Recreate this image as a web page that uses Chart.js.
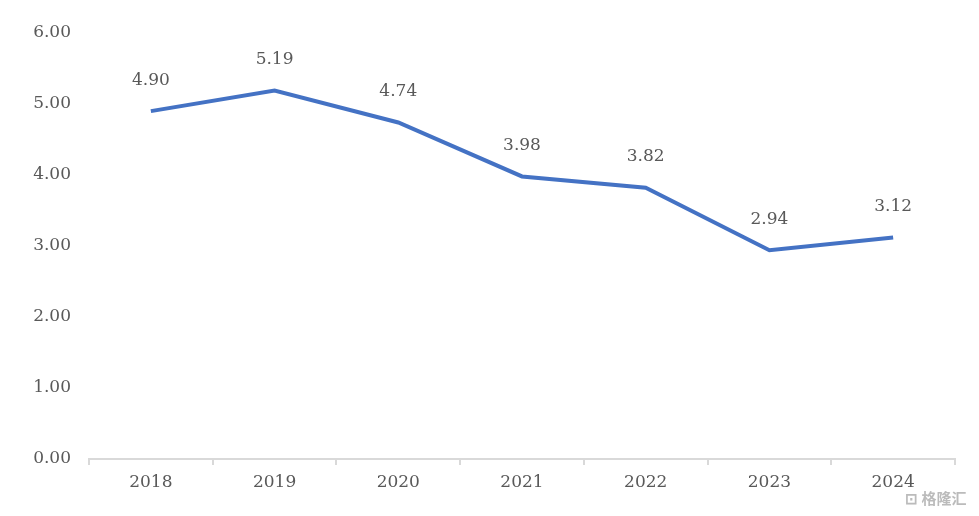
<!DOCTYPE html>
<html>
<head>
<meta charset="utf-8">
<script src="https://cdn.jsdelivr.net/npm/chart.js@4.4.0/dist/chart.umd.min.js"></script>
<style>
  html, body { margin: 0; padding: 0; background: #fff; }
  #wrap { width: 979px; height: 516px; position: relative; }
</style>
</head>
<body>
<div id="wrap"><canvas id="lineChart"></canvas></div>
<script>
// === DATA ===
const years = ['2018', '2019', '2020', '2021', '2022', '2023', '2024'];
const values = [4.90, 5.19, 4.74, 3.98, 3.82, 2.94, 3.12];
const yTicks = [0, 1, 2, 3, 4, 5, 6];

const textColor = '#595959';
const fontFamily = '"DejaVu Serif", "Liberation Serif", serif';

// labels above each point
const pointLabels = {
  id: 'pointLabels',
  afterDatasetsDraw(chart) {
    const ctx = chart.ctx;
    const meta = chart.getDatasetMeta(0);
    ctx.save();
    ctx.font = '17px ' + fontFamily;
    ctx.fillStyle = textColor;
    ctx.textAlign = 'center';
    ctx.textBaseline = 'middle';
    meta.data.forEach((pt, i) => {
      ctx.fillText(values[i].toFixed(2), pt.x, pt.y - 31);
    });
    ctx.restore();
  }
};

// small watermark bottom right
const watermark = {
  id: 'watermark',
  afterDraw(chart) {
    const ctx = chart.ctx;
    ctx.save();
    ctx.font = 'bold 15px "Noto Sans CJK SC", sans-serif';
    ctx.fillStyle = 'rgba(170,170,170,0.8)';
    ctx.textAlign = 'left';
    ctx.textBaseline = 'middle';
    ctx.fillText('⊡ 格隆汇', 905, 498);
    ctx.restore();
  }
};

new Chart(document.getElementById('lineChart'), {
  type: 'line',
  data: {
    labels: years,
    datasets: [{
      data: values,
      borderColor: '#4472C4',
      borderWidth: 4,
      tension: 0,
      pointRadius: 0,
      fill: false
    }]
  },
  options: {
    responsive: true,
    maintainAspectRatio: false,
    animation: false,
    layout: { padding: { top: 33, right: 24, bottom: 0, left: 0 } },
    plugins: { legend: { display: false }, tooltip: { enabled: false } },
    scales: {
      x: {
        offset: true,
        afterFit(scale) { scale.height = 57; },
        grid: { offset: true, drawOnChartArea: false, color: '#d9d9d9', tickLength: 6, lineWidth: 2 },
        border: { color: '#d9d9d9', width: 2 },
        ticks: { color: textColor, font: { size: 17, family: fontFamily }, padding: 7 }
      },
      y: {
        min: 0,
        max: 6,
        afterFit(scale) { scale.width = 89; },
        afterBuildTicks(scale) { scale.ticks = yTicks.map(v => ({ value: v })); },
        grid: { display: false },
        border: { display: false },
        ticks: {
          color: textColor,
          font: { size: 17, family: fontFamily },
          padding: 10,
          callback: v => v.toFixed(2)
        }
      }
    }
  },
  plugins: [pointLabels, watermark]
});
</script>
</body>
</html>
